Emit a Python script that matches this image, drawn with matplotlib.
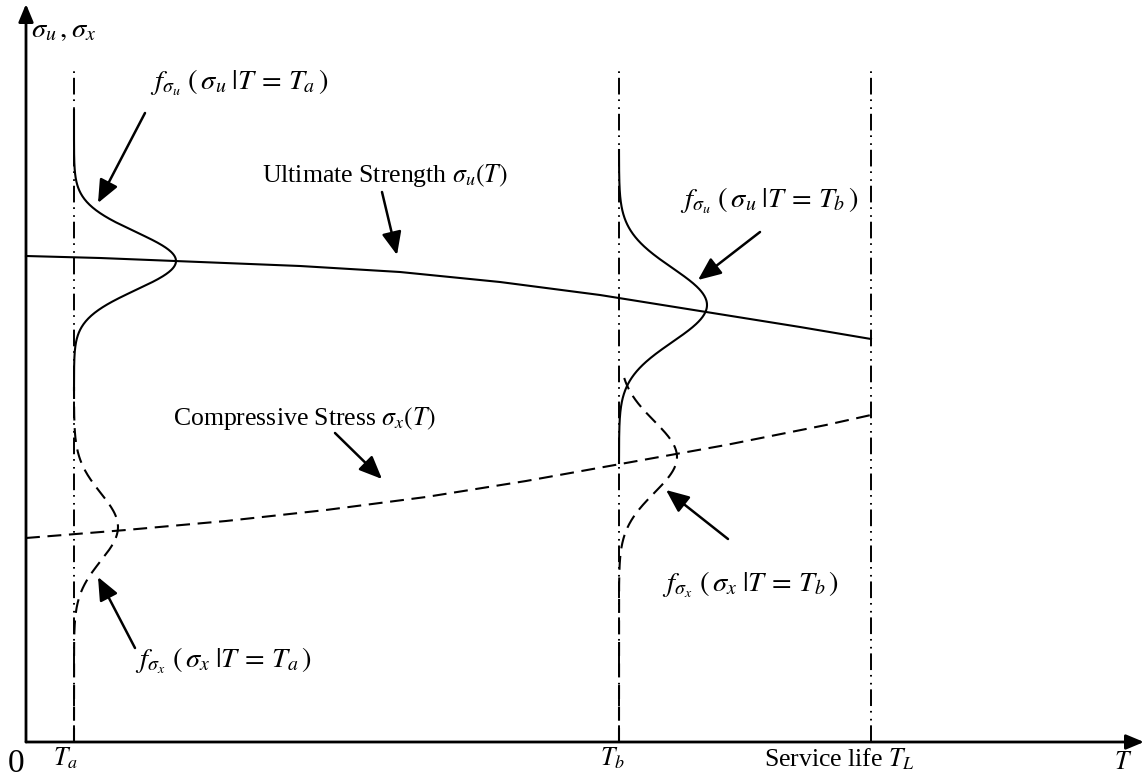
import numpy as np
import matplotlib
matplotlib.use("Agg")
import matplotlib.pyplot as plt

plt.rcParams['font.family'] = ['Liberation Serif', 'DejaVu Serif']
plt.rcParams['mathtext.fontset'] = 'stix'
plt.rcParams['lines.scale_dashes'] = False

# Mean ultimate strength and compressive stress over time (arbitrary units)
T_strength = [0, 74, 174, 274, 374, 474, 574, 674, 774, 845]
sigma_u = [486, 484, 480, 476, 470, 460, 447, 431, 415, 403]

T_stress = [0, 100, 200, 300, 400, 500, 600, 700, 800, 845]
sigma_x = [204, 212, 221, 232, 245, 261, 279, 297, 317, 327]

# Time instants of interest
T_a, T_b, T_L = 48, 593, 845

# Normal densities drawn sideways at T_a and T_b: (mean, std, peak height, top, bottom)
pdf_u_Ta = (481, 29, 102, 632, 352)
pdf_x_Ta = (215, 34, 44, 355, 0)
pdf_u_Tb = (437, 37, 88, 592, 279)
pdf_x_Tb = (285, 36, 58, 364, 0)

fig = plt.figure(figsize=(11.44, 7.82), dpi=100)
ax = fig.add_axes([0, 0, 1, 1])
ax.set_xlim(-26, 1118)
ax.set_ylim(-40, 742)
ax.axis('off')

LW = 1.5
dashed = (0, (10, 5.5))
dashdot = (0, (12, 3.5, 1.2, 4.5, 1.2, 3.5))

# coordinate axes with arrow heads
axis_arrow = dict(arrowstyle='-|>,head_length=0.6,head_width=0.25', lw=2.0,
                  color='black', mutation_scale=18, shrinkA=0, shrinkB=0)
ax.annotate('', xy=(0, 738), xytext=(0, 0), arrowprops=axis_arrow)
ax.annotate('', xy=(1118, 0), xytext=(0, 0), arrowprops=axis_arrow)

# vertical reference lines
for t in (T_a, T_b, T_L):
    ax.plot([t, t], [0, 674], color='black', lw=1.4, linestyle=dashdot)

# mean curves
ax.plot(T_strength, sigma_u, color='black', lw=LW)
ax.plot(T_stress, sigma_x, color='black', lw=LW, linestyle=dashed)


def side_pdf(t0, params, style):
    mean, sd, height, top, bottom = params
    y = np.linspace(bottom, top, 400)
    x = t0 + height * np.exp(-0.5 * ((y - mean) / sd) ** 2)
    ax.plot(x, y, color='black', lw=LW, linestyle=style)


side_pdf(T_a, pdf_u_Ta, '-')
side_pdf(T_a, pdf_x_Ta, dashed)
side_pdf(T_b, pdf_u_Tb, '-')
side_pdf(T_b, pdf_x_Tb, dashed)

# pointer arrows
pointer = dict(arrowstyle='-|>,head_length=0.7,head_width=0.3', lw=1.8,
               color='black', mutation_scale=20, shrinkA=0, shrinkB=0)
arrows = [((119, 629), (72, 539)),
          ((356, 550), (371, 487)),
          ((734, 510), (672, 462)),
          ((309, 309), (356, 263)),
          ((109, 94), (72, 165)),
          ((702, 203), (640, 252))]
for start, end in arrows:
    ax.annotate('', xy=end, xytext=start, arrowprops=pointer)

FS = 18.5
FM = 20.5
txt = dict(fontsize=FS, ha='left', va='baseline', color='black')
mtxt = dict(fontsize=FM, ha='left', va='baseline', color='black')
ax.text(5, 705, r'$\sigma_u\,,\sigma_x$', **mtxt)
ax.text(124, 652, r'$f_{\sigma_u}\ \left(\,\sigma_u\;|T\, =\, T_a\,\right)$', **mtxt)
ax.text(236, 560, r'Ultimate Strength $\sigma_u(T)$', **txt)
ax.text(654, 534, r'$f_{\sigma_u}\ \left(\,\sigma_u\;|T\, =\, T_b\,\right)$', **mtxt)
ax.text(147, 317, r'Compressive Stress $\sigma_x(T)$', **txt)
ax.text(109, 74, r'$f_{\sigma_x}\ \left(\,\sigma_x\;|T\, =\, T_a\,\right)$', **mtxt)
ax.text(636, 150, r'$f_{\sigma_x}\ \left(\,\sigma_x\;|T\, =\, T_b\,\right)$', **mtxt)

# axis labels
ax.text(-10, -30, '0', fontsize=24, ha='center', va='baseline')
ax.text(27, -23, r'$T_a$', **txt)
ax.text(574, -23, r'$T_b$', **txt)
ax.text(738, -24, r'Service life $T_L$', **txt)
ax.text(1088, -27, r'$T$', **txt)

fig.savefig('out.png', dpi=100)
